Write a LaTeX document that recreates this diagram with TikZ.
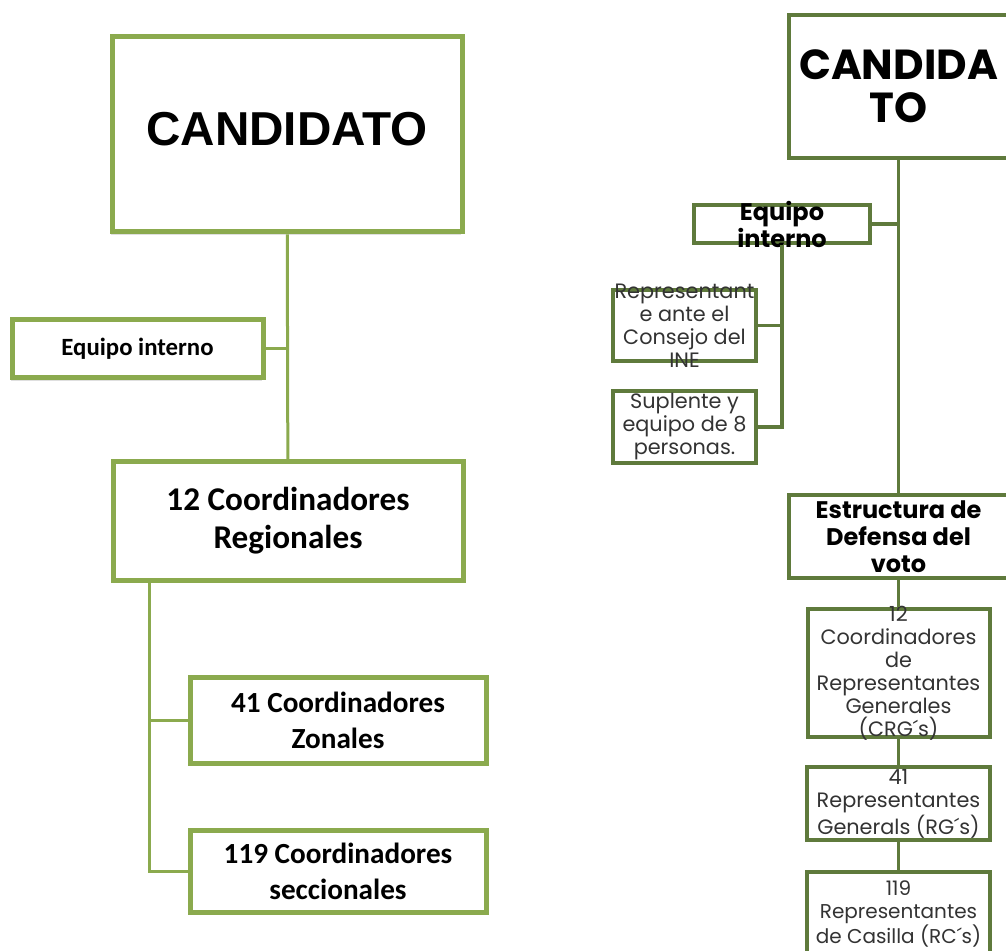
\documentclass[tikz,border=0pt]{standalone}
\usepackage{fontspec}
\usepackage{xcolor}
\usetikzlibrary{positioning,shadows}
\newfontfamily\arialfont{Liberation Sans}
\newfontfamily\calibrifont{Carlito}
\newfontfamily\gothicfont{Poppins}
\definecolor{lgreen}{HTML}{8BAA4E}
\definecolor{dgreen}{HTML}{5F7A3C}
\tikzset{%
	lbox/.style  = {draw=lgreen, line width=2.5pt, fill=white, rectangle, align=center, inner sep=0pt, drop shadow={shadow xshift=-0.3pt, shadow yshift=-1.3pt, opacity=0.25}},
	rbox/.style  = {draw=dgreen, line width=2pt, fill=white, rectangle, align=center, inner sep=0pt, text=black!80, font=\gothicfont\fontsize{10.4}{11.5}\selectfont},
	rtxt/.style  = {align=center, inner sep=0pt, text=black!80, font=\gothicfont\fontsize{10.4}{11.5}\selectfont},
	rbold/.style = {align=center, inner sep=0pt, text=black, font=\gothicfont\bfseries\fontsize{12}{13.5}\selectfont},
	lline/.style = {draw=lgreen, line width=1.5pt},
	rline/.style = {draw=dgreen, line width=1.75pt},
}

\begin{document}
\begin{tikzpicture}[x=0.5pt,y=-0.5pt]
	\useasboundingbox (0,0) rectangle (1006,951);
	\clip (0,0) rectangle (1006,951);

	% left chart
	\node[lbox, minimum width=175pt, minimum height=97.5pt, text depth=6pt, font=\arialfont\bfseries\fontsize{23.8}{27}\selectfont] (cand) at (287,134.5) {CANDIDATO};
	\node[lbox, minimum width=125.5pt, minimum height=29pt, font=\calibrifont\bfseries\fontsize{12.4}{14}\selectfont] (eqin) at (137.5,349) {Equipo interno};
	\node[lbox, minimum width=175pt, minimum height=59pt, font=\calibrifont\bfseries\fontsize{16.6}{19}\selectfont] (reg) at (288,521) {12 Coordinadores\\Regionales};
	\node[lbox, minimum width=148pt, minimum height=43pt, font=\calibrifont\bfseries\fontsize{14.6}{18}\selectfont] (zon) at (338,720) {41 Coordinadores\\Zonales};
	\node[lbox, minimum width=148pt, minimum height=41pt, font=\calibrifont\bfseries\fontsize{14.6}{18}\selectfont] (secc) at (338,871) {119 Coordinadores\\seccionales};

	\draw[lline] (cand) -- (reg);
	\draw[lline] (eqin.east) -- (eqin.east -| cand.south);
	\coordinate (spine) at ([xshift=19.5pt]reg.south west);
	\draw[lline] (spine) |- (secc.west);
	\draw[lline] (zon.west) -- (zon.west -| spine);

	% right chart
	\node[rbox, minimum width=110pt, minimum height=71.5pt, text=black, font=\gothicfont\bfseries\fontsize{21}{21.5}\selectfont] (cand2) at (898.5,86.5) {CANDIDA\\TO};
	\node[rbox, minimum width=88pt, minimum height=19pt, label={[rbold]center:Equipo\\interno}] (eq2) at (782,224) {};
	\node[rbox, minimum width=71.5pt, minimum height=35.5pt, label={[rtxt]center:Representant\\e ante el\\Consejo del\\INE}] (rep) at (684.5,325.5) {};
	\node[rbox, minimum width=71.5pt, minimum height=36pt] (sup) at (684.5,427) {Suplente y\\equipo de 8\\personas.};
	\node[rbox, minimum width=110pt, minimum height=41.5pt, text=black, font=\gothicfont\bfseries\fontsize{12}{13.5}\selectfont] (estr) at (898.5,536.5) {Estructura de\\Defensa del\\voto};
	\node[rbox, minimum width=91pt, minimum height=64pt, label={[rtxt]center:12\\Coordinadores\\de\\Representantes\\Generales\\(CRG´s)}] (crg) at (898.5,673) {};
	\node[rbox, minimum width=91.5pt, minimum height=36.5pt] (rg) at (898.5,803.5) {41\\Representantes\\Generals (RG´s)};
	\node[rbox, minimum width=91.5pt, minimum height=42pt, font=\gothicfont\fontsize{10}{11.5}\selectfont] (rc) at (898.5,914) {119\\Representantes\\de Casilla (RC´s)};

	\draw[rline] (cand2) -- (estr);
	\draw[rline] (eq2.east) -- (eq2.east -| cand2.south);
	\draw[rline] (eq2.south) |- (sup.east);
	\draw[rline] (rep.east) -- (rep.east -| eq2.south);
	\draw[rline] (estr) -- (crg);
	\draw[rline] (crg) -- (rg);
	\draw[rline] (rg) -- (rc);
\end{tikzpicture}
\end{document}
